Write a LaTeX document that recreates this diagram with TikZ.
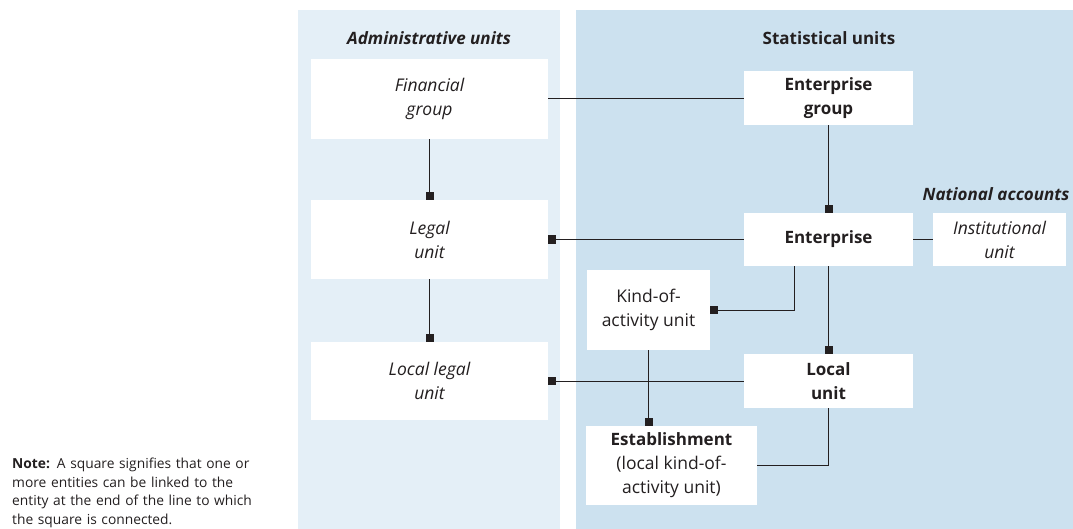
\documentclass[tikz,border=0pt]{standalone}
\usepackage{fontspec}
\setmainfont{Open Sans}
\usetikzlibrary{arrows.meta}
\definecolor{adminbg}{HTML}{E4EFF7}
\definecolor{statbg}{HTML}{CCE1EF}
\definecolor{ink}{HTML}{231F20}
\tikzset{
  unitbox/.style={fill=white, draw=none, inner sep=0pt, align=center, text=ink,
    font=\fontsize{17.5}{24}\selectfont},
  link/.style={draw=ink, line width=0.9pt},
  sqlink/.style={link, -{Square[length=8pt,width=8pt]}},
  heading/.style={text=ink, font=\fontsize{17}{20}\selectfont\bfseries}
}
\begin{document}
\begin{tikzpicture}[x=1pt,y=-1pt]
\useasboundingbox (0,0) rectangle (1073,529);
\fill[adminbg] (298,10) rectangle (560,529);
\fill[statbg] (576,10) rectangle (1073,529);

\node[heading, font=\fontsize{17}{20}\selectfont\bfseries\itshape] (hadm) at (429,38) {Administrative units};
\node[heading] (hstat) at (829,38) {Statistical units};
\node[heading, font=\fontsize{17}{20}\selectfont\bfseries\itshape, anchor=east] (hna) at (1073,194) {National accounts};

\node[unitbox, minimum width=237, minimum height=80, font=\fontsize{17.5}{24}\selectfont\itshape] (fg) at (429.5,99) {Financial\\group};
\node[unitbox, minimum width=237, minimum height=79, font=\fontsize{17.5}{24}\selectfont\itshape] (lu) at (429.5,239.5) {Legal\\unit};
\node[unitbox, minimum width=237, minimum height=78, font=\fontsize{17.5}{24}\selectfont\itshape] (llu) at (429.5,381) {Local legal\\unit};

\node[unitbox, minimum width=169, minimum height=54, font=\fontsize{17}{24}\selectfont\bfseries] (eg) at (828.5,98) {Enterprise\\group};
\node[unitbox, minimum width=169, minimum height=53, font=\fontsize{17}{24}\selectfont\bfseries] (ent) at (828.5,239.5) {Enterprise};
\node[unitbox, minimum width=133, minimum height=53, font=\fontsize{17.5}{24}\selectfont\itshape] (iu) at (999.5,239.5) {Institutional\\unit};
\node[unitbox, minimum width=123, minimum height=80] (kau) at (648.5,310) {Kind-of-\\activity unit};
\node[unitbox, minimum width=169, minimum height=54, font=\fontsize{17}{24}\selectfont\bfseries] (loc) at (828.5,381) {Local\\unit};
\node[unitbox, minimum width=171, minimum height=79] (est) at (671.5,465.5) {\textbf{\fontsize{17}{24}\selectfont Establishment}\\(local kind-of-\\activity unit)};

\node[anchor=north west, inner sep=0pt, align=left, text=ink, text width=280,
  font=\fontsize{13.8}{18.5}\selectfont] (note) at (12,458)
  {\textbf{Note:}\enspace A square signifies that one or\\more entities can be linked to the\\entity at the end of the line to which\\the square is connected.};

\draw[link] (fg.east |- eg.west) -- (eg.west);
\draw[sqlink] (fg.south) -- (lu.north);
\draw[sqlink] (lu.south) -- (llu.north);
\draw[sqlink] (eg.south) -- (ent.north);
\draw[sqlink] (ent.west) -- (lu.east);
\draw[link] (ent.east) -- (iu.west);
\draw[sqlink] ([xshift=-34.5]ent.south) |- (kau.east);
\draw[sqlink] (ent.south) -- (loc.north);
\draw[sqlink] (loc.west) -- (llu.east);
\draw[sqlink] (kau.south) -- (kau.south |- est.north);
\draw[link] (loc.south) |- (est.east);
\end{tikzpicture}
\end{document}
